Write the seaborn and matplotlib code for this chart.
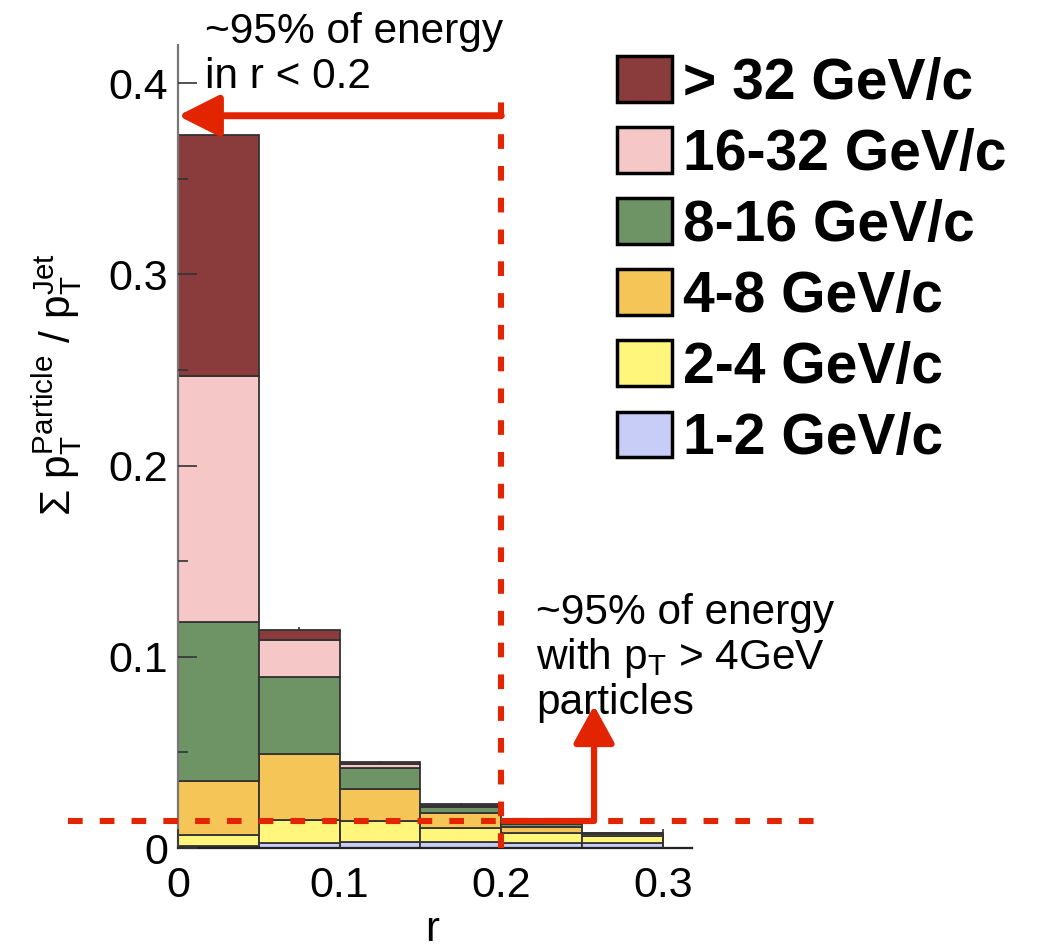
import matplotlib
matplotlib.use("Agg")
import matplotlib.pyplot as plt
import numpy as np
import pandas as pd
import seaborn as sns
from matplotlib.patches import Patch
from matplotlib.ticker import FuncFormatter, MultipleLocator

# Radial bins (r = distance from jet axis)
bin_edges = [0.0, 0.05, 0.10, 0.15, 0.20, 0.25, 0.30]
r_centers = [0.025, 0.075, 0.125, 0.175, 0.225, 0.275]

# Fraction of jet pT carried by particles in each pT class, per r bin
pt_1_2 = [0.0008, 0.0024, 0.0033, 0.0033, 0.0028, 0.0025]
pt_2_4 = [0.0060, 0.0122, 0.0108, 0.0073, 0.0049, 0.0038]
pt_4_8 = [0.0282, 0.0344, 0.0165, 0.0079, 0.0033, 0.0012]
pt_8_16 = [0.0832, 0.0406, 0.0110, 0.0028, 0.0015, 0.0004]
pt_16_32 = [0.1286, 0.0192, 0.0025, 0.0008, 0.0005, 0.0001]
pt_gt_32 = [0.1260, 0.0052, 0.0007, 0.0009, 0.0002, 0.0000]

# Statistical uncertainty on the summed fraction
total_err = [0.0035, 0.0015, 0.0008, 0.0006, 0.0003, 0.0003]

labels = ["> 32 GeV/c", "16-32 GeV/c", "8-16 GeV/c", "4-8 GeV/c", "2-4 GeV/c", "1-2 GeV/c"]
colors = ["#8a3b3c", "#f5c7c7", "#6e9365", "#f5c558", "#fff67b", "#c8cdf7"]
series = [pt_gt_32, pt_16_32, pt_8_16, pt_4_8, pt_2_4, pt_1_2]

rows = []
for lab, vals in zip(labels, series):
    for rc, v in zip(r_centers, vals):
        rows.append({"r": rc, "frac": v, "pt_class": lab})
df = pd.DataFrame(rows)

sns.set_style("white")
plt.rcParams["font.family"] = ["Liberation Sans", "DejaVu Sans"]
plt.rcParams["mathtext.fontset"] = "custom"
plt.rcParams["mathtext.rm"] = "Liberation Sans"
plt.rcParams["mathtext.it"] = "Liberation Sans:italic"
plt.rcParams["mathtext.bf"] = "Liberation Sans:bold"
for key in ("text.color", "axes.labelcolor", "xtick.color", "ytick.color"):
    plt.rcParams[key] = "black"

fig = plt.figure(figsize=(10.37, 9.51), dpi=100)
ax = fig.add_axes([178 / 1037, 1 - 848 / 951, 514 / 1037, 803 / 951])

palette = dict(zip(labels, colors))
sns.histplot(
    data=df, x="r", weights="frac", hue="pt_class", hue_order=labels,
    bins=bin_edges, multiple="stack", palette=palette, alpha=1.0,
    edgecolor="#333333", linewidth=1.3, legend=False, ax=ax,
)

totals = np.sum(np.array(series), axis=0)
ax.errorbar(r_centers, totals, yerr=[np.zeros(len(total_err)), total_err],
            fmt="none", ecolor="#333333", elinewidth=1.2, capsize=0, zorder=3)

ax.set_xlim(0, 0.318)
ax.set_ylim(0, 0.42)

for side in ("top", "right"):
    ax.spines[side].set_visible(False)
ax.spines["left"].set_color("#777777")
ax.spines["left"].set_linewidth(1.6)
ax.spines["bottom"].set_color("#222222")
ax.spines["bottom"].set_linewidth(1.6)

fmt = FuncFormatter(lambda v, p: "0" if abs(v) < 1e-9 else f"{v:.1f}")
ax.yaxis.set_major_locator(MultipleLocator(0.1))
ax.yaxis.set_minor_locator(MultipleLocator(0.05))
ax.xaxis.set_major_locator(MultipleLocator(0.1))
ax.xaxis.set_major_formatter(fmt)
ax.yaxis.set_major_formatter(fmt)
ax.tick_params(axis="both", which="major", direction="in", length=14, width=1.2,
               color="#333333", labelcolor="black", labelsize=31,
               left=True, bottom=True)
ax.tick_params(axis="y", which="minor", direction="in", length=7, width=1.2,
               color="#333333", left=True)
ax.tick_params(axis="y", which="major", pad=7)
ax.tick_params(axis="x", which="major", pad=13)
ax.set_axisbelow(False)

ax.set_xlabel("")
ax.set_ylabel(r"$\Sigma\ \mathrm{p}_{\mathrm{T}}^{\mathrm{Particle}}\ /\ \mathrm{p}_{\mathrm{T}}^{\mathrm{Jet}}$",
              fontsize=30.5)
ax.yaxis.set_label_coords(-0.183, 0.577)
fig.text(432 / 1037, 1 / 951, "r", fontsize=30, ha="center", va="bottom")

# Guide lines and arrows
red = "#e32400"
ax.plot([0.2, 0.2], [0.0, 0.3937], color=red, lw=4.4, dashes=(2.4, 2.8),
        solid_capstyle="butt", clip_on=False, zorder=5)
ax.plot([-0.068, 0.396], [0.0141, 0.0141], color=red, lw=4.4, dashes=(2.4, 2.8),
        solid_capstyle="butt", clip_on=False, zorder=5)
ax.plot([0.2, 0.2574], [0.0141, 0.0141], color=red, lw=4.4,
        solid_capstyle="butt", clip_on=False, zorder=6)
ax.annotate("", xy=(0.0, 0.383), xytext=(0.2, 0.383), annotation_clip=False,
            arrowprops=dict(arrowstyle="-|>,head_length=2.5,head_width=1.26",
                            mutation_scale=10, color=red, lw=5,
                            shrinkA=0, shrinkB=0), zorder=6)
ax.annotate("", xy=(0.2574, 0.0745), xytext=(0.2574, 0.0141), annotation_clip=False,
            arrowprops=dict(arrowstyle="-|>,head_length=2.3,head_width=1.26",
                            mutation_scale=10, color=red, lw=4.5,
                            shrinkA=0, shrinkB=0), zorder=6)

ax.text(0.0167, 0.437, "~95% of energy\nin r < 0.2", fontsize=30.5, ha="left",
        va="top", linespacing=1.13, clip_on=False)
ax.text(0.2216, 0.1335, "~95% of energy\nwith p$_{\\mathrm{T}}$ > 4GeV\nparticles",
        fontsize=30.5, ha="left", va="top", linespacing=1.09, clip_on=False)

handles = [Patch(facecolor=c, edgecolor="black", linewidth=2.5) for c in colors]
fig.legend(handles, labels, loc="upper left", bbox_to_anchor=(617 / 1037, 1 - 56 / 951),
           frameon=False, borderpad=0, borderaxespad=0, handlelength=0.97,
           handleheight=0.86, handletextpad=0.19, labelspacing=0.29,
           prop={"family": "Liberation Sans", "weight": "bold", "size": 41})

fig.savefig("out.png", dpi=100)
